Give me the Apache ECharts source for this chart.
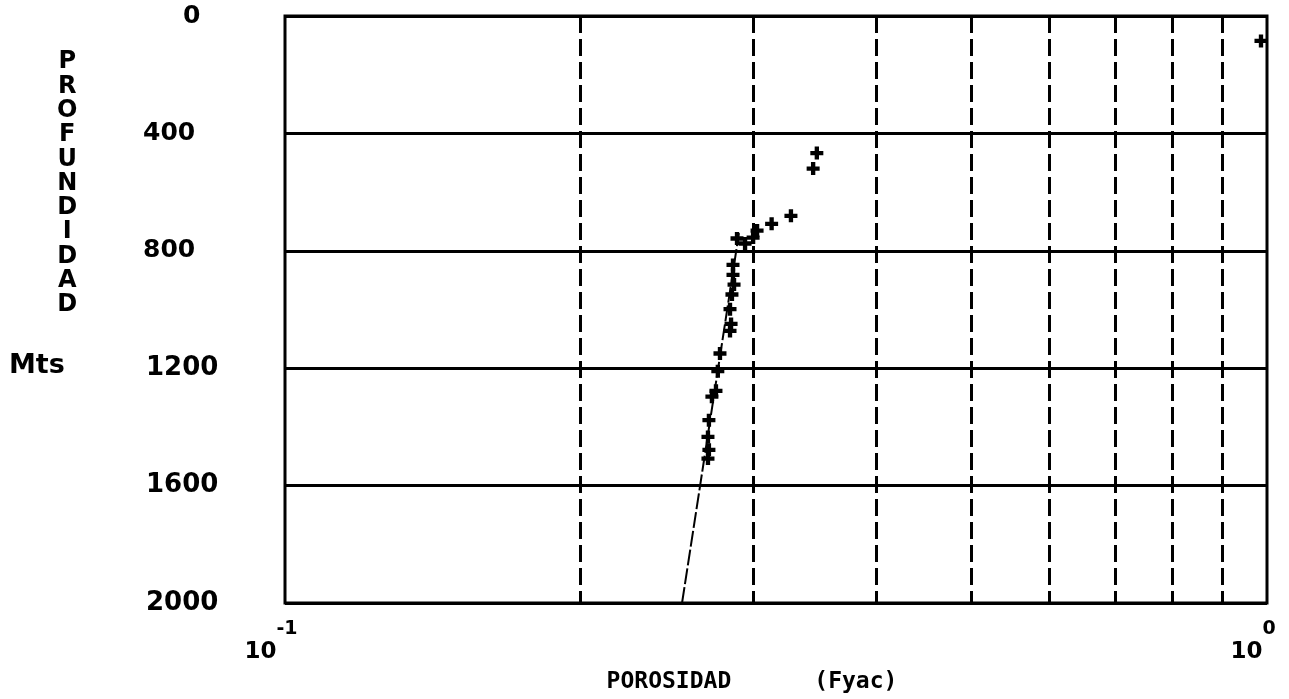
<!DOCTYPE html>
<html>
<head>
<meta charset="utf-8">
<script src="https://cdn.jsdelivr.net/npm/echarts@6/dist/echarts.min.js"></script>
<style>html,body{margin:0;padding:0;background:#fff;}#c{width:1289px;height:699px;}</style>
</head>
<body>
<div id="c"></div>
<script>
// ---- data ----
const depthTicks = [0, 400, 800, 1200, 1600, 2000];
const porosityGrid = [0.2, 0.3, 0.4, 0.5, 0.6, 0.7, 0.8, 0.9];
const porosity = [0.986, 0.348, 0.345, 0.3275, 0.313, 0.3025, 0.2997, 0.2886, 0.2941,
  0.2859, 0.2859, 0.2866, 0.2852, 0.2839, 0.2846, 0.2839, 0.2773, 0.2759, 0.2747,
  0.2721, 0.2702, 0.2696, 0.2702, 0.2696];
const depth = [85, 467, 520, 681, 708, 731, 755, 758, 775,
  848, 882, 915, 949, 999, 1049, 1073, 1150, 1210, 1277,
  1297, 1377, 1434, 1478, 1508];
const fitPorosity = [0.2537, 0.2899];
const fitDepth = [2000, 740];
const xTickLabels = {'0.1': ['10', '-1'], '1': ['10', '0']};

const FONT = 'DejaVu Sans';
const chart = echarts.init(document.getElementById('c'), null, {renderer: 'canvas'});
const plus = 'path://M4,0H8V4H12V8H8V12H4V8H0V4H4Z';

chart.setOption({
  animation: false,
  backgroundColor: '#fff',
  grid: {left: 285, right: 22, top: 16, bottom: 84, show: true, borderColor: '#000', borderWidth: 3, backgroundColor: 'transparent'},
  xAxis: {
    type: 'log', logBase: 10, min: 0.1, max: 1,
    axisLine: {show: false}, axisTick: {show: false}, splitLine: {show: false},
    axisLabel: {
      margin: 17, align: 'center', padding: [0, 28, 0, 0],
      formatter: function (v) {
        const k = String(Math.round(v * 10) / 10);
        const t = xTickLabels[k];
        return t ? '{b|' + t[0] + '}{s|' + t[1] + '}' : '';
      },
      rich: {
        b: {fontFamily: FONT, fontWeight: 'bold', fontSize: 23, color: '#000', verticalAlign: 'bottom', lineHeight: 44},
        s: {fontFamily: FONT, fontWeight: 'bold', fontSize: 19, color: '#000', verticalAlign: 'top', lineHeight: 44}
      }
    },
    name: 'POROSIDAD      (Fyac)', nameLocation: 'middle', nameGap: 68,
    nameTextStyle: {fontFamily: 'DejaVu Sans Mono', fontWeight: 'bold', fontSize: 23, color: '#000', padding: [0, 48, 0, 0]}
  },
  yAxis: {
    type: 'value', inverse: true, min: 0, max: 2000, interval: 400,
    axisLine: {show: false}, axisTick: {show: false},
    splitLine: {show: true, lineStyle: {color: '#000', width: 3}},
    axisLabel: {
      margin: 142, align: 'left',
      formatter: function (v) { return v === 0 ? '{z|0}' : (v >= 1200 ? '{w|' + v + '}' : '{a|' + v + '}'); },
      rich: {
        a: {fontFamily: FONT, fontWeight: 'bold', fontSize: 25, color: '#000'},
        w: {fontFamily: FONT, fontWeight: 'bold', fontSize: 26, color: '#000', padding: [0, 0, 0, 3]},
        z: {fontFamily: FONT, fontWeight: 'bold', fontSize: 25, color: '#000', padding: [0, 0, 0, 40]}
      }
    }
  },
  graphic: [
    {type: 'text', left: 57, top: 50, style: {text: 'P\nR\nO\nF\nU\nN\nD\nI\nD\nA\nD', fill: '#000', font: 'bold 24px DejaVu Sans', lineHeight: 24.3, textAlign: 'center'}},
    {type: 'text', left: 9, top: 352, style: {text: 'Mts', fill: '#000', font: 'bold 27px DejaVu Sans'}}
  ],
  series: [
    {
      type: 'line', data: fitPorosity.map((p, i) => [p, fitDepth[i]]),
      symbol: 'none', lineStyle: {color: '#000', width: 2, type: [16, 3]}, z: 3
    },
    {
      type: 'scatter', data: porosity.map((p, i) => [p, depth[i]]),
      symbol: plus, symbolSize: 13, itemStyle: {color: '#000', opacity: 1}, z: 4,
      markLine: {
        silent: true, symbol: 'none', label: {show: false},
        lineStyle: {color: '#000', width: 3, type: [17, 6]},
        data: porosityGrid.map(v => ({xAxis: v}))
      }
    }
  ]
});
</script>
</body>
</html>
